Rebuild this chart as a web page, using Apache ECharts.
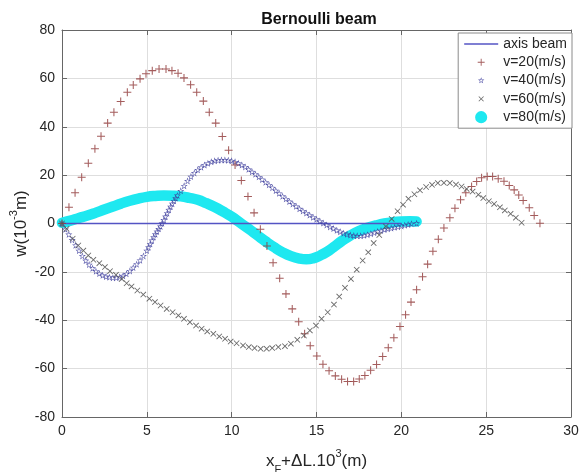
<!DOCTYPE html>
<html><head><meta charset="utf-8">
<script src="https://cdn.jsdelivr.net/npm/echarts@6/dist/echarts.min.js"></script>
<style>html,body{margin:0;padding:0;background:#fff}#c{width:584px;height:472px}</style>
</head><body><div id="c"></div>
<script>
// ---- data ----
const titleText = 'Bernoulli beam';
const seriesNames = ['axis beam', 'v=20(m/s)', 'v=40(m/s)', 'v=60(m/s)', 'v=80(m/s)'];
const xRange = [0, 30, 5];
const yRange = [-80, 80, 20];

const axisBeam = [[0, 0], [20, 0]];

const v20 = [[0,0],[0.41,6.7],[0.77,12.7],[1.16,19.1],[1.55,24.9],[1.94,30.9],[2.30,36.1],[2.69,41.5],[3.06,46],[3.46,50.4],[3.85,54.3],[4.2,57.3],[4.6,59.8],[4.95,61.9],[5.32,63.2],[5.72,63.9],[6.13,63.9],[6.48,63.2],[6.84,62.1],[7.19,60.2],[7.58,57.4],[7.94,54.3],[8.33,50.6],[8.68,46],[9.06,41.5],[9.45,36],[9.82,30.3],[10.2,24.2],[10.57,17.8],[10.96,11.2],[11.32,4.4],[11.69,-2.4],[12.08,-9.3],[12.44,-16.2],[12.83,-22.6],[13.2,-29.1],[13.57,-35.3],[13.95,-40.6],[14.3,-45.6],[14.63,-50.5],[15.02,-54.8],[15.38,-58.2],[15.74,-60.9],[16.11,-63],[16.48,-64.4],[16.83,-65.3],[17.19,-65.3],[17.52,-64.3],[17.85,-62.8],[18.19,-60.7],[18.54,-58.3],[18.9,-55],[19.23,-51.4],[19.56,-47.2],[19.92,-42.6],[20.25,-37.7],[20.57,-32.5],[20.9,-27.4],[21.25,-22],[21.55,-16.8],[21.86,-11.5],[22.18,-6.5],[22.51,-1.9],[22.86,2.4],[23.16,6.3],[23.49,9.8],[23.8,12.7],[24.14,15.3],[24.44,17.4],[24.73,18.9],[25.06,19.4],[25.38,19.4],[25.71,18.5],[26.05,17.5],[26.36,15.7],[26.65,13.9],[26.92,11.8],[27.18,9.5],[27.54,6.5],[27.83,3.3],[28.17,0.1]];

const v40 = [[0,0],[0.2,-2.4],[0.4,-4.5],[0.6,-6.8],[0.8,-9],[1.0,-11.2],[1.2,-13.4],[1.4,-15.3],[1.6,-17],[1.8,-18.5],[2.0,-19.7],[2.2,-20.7],[2.4,-21.4],[2.6,-21.9],[2.8,-22.2],[3.0,-22.4],[3.2,-22.4],[3.4,-22.1],[3.6,-21.6],[3.8,-20.8],[4.0,-19.6],[4.2,-18.2],[4.4,-16.8],[4.6,-15.2],[4.8,-13.4],[5.0,-11.2],[5.1,-9.8],[5.2,-8.4],[5.3,-7],[5.4,-5.6],[5.5,-4.4],[5.6,-3.3],[5.7,-2.2],[5.8,-1.2],[5.9,0.1],[6.0,1.5],[6.1,2.9],[6.2,4.3],[6.3,5.7],[6.4,7],[6.5,8.2],[6.6,9.4],[6.7,10.5],[6.8,11.6],[7.0,13.5],[7.2,15.6],[7.4,17.6],[7.6,19.4],[7.8,20.9],[8.0,22.2],[8.2,23.3],[8.4,24.2],[8.6,24.9],[8.8,25.5],[9.0,25.9],[9.2,26.2],[9.4,26.3],[9.6,26.3],[9.8,26.2],[10.0,25.9],[10.2,25.5],[10.4,24.9],[10.6,24.2],[10.8,23.4],[11.0,22.4],[11.2,21.4],[11.4,20.4],[11.6,19.3],[11.8,18.2],[12.0,17.1],[12.2,16.0],[12.4,14.8],[12.6,13.6],[12.8,12.5],[13.0,11.3],[13.2,10.2],[13.4,9.1],[13.6,8.1],[13.8,7.1],[14.0,6.1],[14.2,5.2],[14.4,4.3],[14.6,3.5],[14.8,2.6],[15.0,1.8],[15.2,1.0],[15.4,0.2],[15.6,-0.6],[15.8,-1.4],[16.0,-2.1],[16.2,-2.8],[16.4,-3.4],[16.6,-4.0],[16.8,-4.4],[17.0,-4.8],[17.2,-5.0],[17.4,-5.1],[17.6,-5.1],[17.8,-4.9],[18.0,-4.6],[18.2,-4.2],[18.4,-3.8],[18.6,-3.3],[18.8,-2.9],[19.0,-2.5],[19.2,-2.2],[19.4,-1.9],[19.6,-1.6],[19.8,-1.3],[20.0,-1.0],[20.2,-0.7],[20.4,-0.4],[20.6,-0.1],[20.9,0.1]];

const v60 = [[0,0],[0.27,-2.2],[0.63,-6.3],[0.96,-9.1],[1.26,-11.2],[1.55,-13.2],[1.85,-15],[2.2,-16.4],[2.53,-18],[2.83,-19.7],[3.18,-21.2],[3.52,-22.9],[3.81,-24.7],[4.1,-26],[4.44,-27.7],[4.79,-29.4],[5.15,-31.1],[5.48,-32.5],[5.81,-33.9],[6.17,-35.3],[6.52,-36.7],[6.86,-38],[7.19,-39.4],[7.54,-40.8],[7.9,-42.2],[8.23,-43.5],[8.56,-44.6],[8.92,-45.6],[9.27,-46.7],[9.61,-47.7],[9.94,-48.8],[10.29,-49.5],[10.67,-50.4],[11.01,-51.1],[11.35,-51.5],[11.71,-51.8],[12.06,-51.8],[12.39,-51.5],[12.75,-51.1],[13.14,-50.7],[13.49,-49.7],[13.87,-48.1],[14.26,-46.3],[14.61,-44.2],[14.97,-42.2],[15.3,-39.4],[15.66,-36.7],[16.03,-33.5],[16.34,-30.2],[16.68,-26.6],[17.03,-22.9],[17.37,-19.1],[17.72,-15.3],[18.05,-11.9],[18.37,-8.1],[18.7,-4.8],[19.09,-1.2],[19.43,1.9],[19.78,5.1],[20.1,7.8],[20.42,10.2],[20.77,12.1],[21.1,13.7],[21.46,15.1],[21.81,16],[22.15,16.7],[22.51,16.8],[22.86,16.7],[23.22,16.1],[23.55,15.3],[23.85,14.3],[24.2,13.2],[24.54,11.9],[24.83,10.5],[25.16,9.2],[25.47,8.1],[25.81,6.7],[26.1,5.4],[26.44,4],[26.75,2.4],[27.09,0.3]];

const v80 = [[0,0.3],[0.5,1.2],[1.0,2.3],[1.5,3.3],[2.0,4.5],[2.5,5.8],[3.0,7.0],[3.5,8.3],[4.0,9.4],[4.5,10.3],[5.0,11.0],[5.5,11.4],[6.0,11.6],[6.5,11.5],[7.0,11.2],[7.5,10.6],[8.0,9.8],[8.5,8.4],[9.0,6.8],[9.5,4.9],[10.0,2.8],[10.5,0.3],[11.0,-2.2],[11.5,-4.8],[12.0,-7.4],[12.5,-9.8],[13.0,-11.9],[13.5,-13.5],[14.0,-14.5],[14.4,-14.8],[14.8,-14.4],[15.2,-13.3],[15.6,-11.8],[16.0,-9.8],[16.5,-7.2],[17.0,-4.9],[17.5,-3.1],[18.0,-1.8],[18.5,-0.8],[19.0,0],[19.5,0.5],[20.0,0.8],[20.5,0.9],[20.9,0.8]];

// ---- symbols ----
const pad = (r) => ' M-' + r + ',-' + r + 'h0.01v0.01h-0.01Z M' + r + ',' + r + 'h0.01v0.01h-0.01Z';
const plusP = 'M-0.13,-1H0.13V1H-0.13Z M-1,-0.13H1V0.13H-1Z';
const crossP = 'M-1,-0.8L-0.8,-1L1,0.8L0.8,1Z M1,-0.8L-0.8,1L-1,0.8L0.8,-1Z';
const starP = 'M0,-1L0.235,-0.324L0.951,-0.309L0.38,0.124L0.588,0.809L0,0.4L-0.588,0.809L-0.38,0.124L-0.951,-0.309L-0.235,-0.324Z ' +
  'M0,-0.58L-0.136,-0.188L-0.552,-0.179L-0.22,0.072L-0.341,0.469L0,0.232L0.341,0.469L0.22,0.072L0.552,-0.179L0.136,-0.188Z';
const circP = 'M-1,0A1,1 0 1,0 1,0A1,1 0 1,0 -1,0Z';

const cBeam = '#5454c4', c20 = '#944040', c40 = '#3c3c9c', c60 = '#555555', c80 = '#1ee8f0';
const axisCol = '#666666', txtCol = '#262626', gridCol = '#dedede';

const chart = echarts.init(document.getElementById('c'), null, {renderer: 'canvas'});
const font = 'Liberation Sans, Arial, Helvetica, sans-serif';

const baseAxis = (extra) => Object.assign({
  type: 'value',
  axisLine: {show: true, onZero: false, lineStyle: {color: axisCol, width: 1}},
  axisTick: {show: true, inside: true, length: 5, lineStyle: {color: axisCol}},
  splitLine: {show: false},
}, extra);

chart.setOption({
  animation: false,
  backgroundColor: '#ffffff',
  textStyle: {fontFamily: font},
  title: {
    text: titleText, left: 314, top: 7, textAlign: 'center',
    textStyle: {fontSize: 16, fontWeight: 'bold', color: '#111', fontFamily: font}
  },
  grid: {left: 62, right: 13, top: 30, bottom: 55, containLabel: false, outerBoundsMode: 'none'},
  legend: {
    orient: 'vertical', right: 12, top: 33,
    backgroundColor: '#fff', borderColor: '#8a8a8a', borderWidth: 1, borderRadius: 0,
    padding: [4, 5, 4, 6], itemWidth: 34, itemHeight: 14, itemGap: 4.3,
    textStyle: {fontSize: 14, color: txtCol, fontFamily: font},
    data: [
      {name: seriesNames[0], icon: 'path://M0,0H34V1.3H0Z', itemStyle: {color: cBeam}},
      {name: seriesNames[1], icon: 'path://' + plusP + pad(2)},
      {name: seriesNames[2], icon: 'path://' + starP + pad(2.1)},
      {name: seriesNames[3], icon: 'path://' + crossP + pad(2.6)},
      {name: seriesNames[4], icon: 'path://' + circP + pad(1.15), itemStyle: {color: c80}}
    ]
  },
  xAxis: [
    baseAxis({
      min: xRange[0], max: xRange[1], interval: xRange[2], position: 'bottom',
      splitLine: {show: true, lineStyle: {color: gridCol, width: 1}},
      axisLabel: {fontSize: 14, color: txtCol, margin: 7, fontFamily: font},
      name: '{a|x}{sub|F}{a|+ΔL.10}{sup|3}{a|(m)}', nameLocation: 'middle', nameGap: 33,
      nameTextStyle: {
        color: txtCol, fontFamily: font,
        rich: {
          a: {fontSize: 17, color: txtCol, fontFamily: font, lineHeight: 22, verticalAlign: 'middle'},
          sub: {fontSize: 11, color: txtCol, fontFamily: font, lineHeight: 11, verticalAlign: 'bottom', padding: [0, 0, -3, 0]},
          sup: {fontSize: 11, color: txtCol, fontFamily: font, lineHeight: 11, verticalAlign: 'top', padding: [-2, 0, 0, 0]}
        }
      }
    }),
    baseAxis({min: xRange[0], max: xRange[1], interval: xRange[2], position: 'top', axisLabel: {show: false}})
  ],
  yAxis: [
    baseAxis({
      min: yRange[0], max: yRange[1], interval: yRange[2], position: 'left',
      splitLine: {show: true, lineStyle: {color: gridCol, width: 1}},
      axisLabel: {fontSize: 14, color: txtCol, margin: 7, fontFamily: font},
      name: '{a|w(10}{sup|-3}{a|m)}', nameLocation: 'middle', nameGap: 30, nameRotate: 90,
      nameMoveOverlap: false,
      nameTextStyle: {
        color: txtCol, fontFamily: font,
        rich: {
          a: {fontSize: 17, color: txtCol, fontFamily: font, lineHeight: 22, verticalAlign: 'middle'},
          sup: {fontSize: 11, color: txtCol, fontFamily: font, lineHeight: 11, verticalAlign: 'top', padding: [-2, 0, 0, 0]}
        }
      }
    }),
    baseAxis({min: yRange[0], max: yRange[1], interval: yRange[2], position: 'right', axisLabel: {show: false}})
  ],
  series: [
    {
      name: seriesNames[0], type: 'line', data: axisBeam, symbol: 'none', color: cBeam, z: 3,
      lineStyle: {color: cBeam, width: 1.3}, silent: true
    },
    {
      name: seriesNames[1], type: 'scatter', data: v20, symbol: 'path://' + plusP, symbolSize: 8, z: 5,
      itemStyle: {color: c20, opacity: 0.85}, silent: true
    },
    {
      name: seriesNames[2], type: 'scatter', data: v40, symbol: 'path://' + starP, symbolSize: 7, z: 4,
      itemStyle: {color: c40, opacity: 0.9}, silent: true
    },
    {
      name: seriesNames[3], type: 'scatter', data: v60, symbol: 'path://' + crossP, symbolSize: 6, z: 5,
      itemStyle: {color: c60, opacity: 0.9}, silent: true
    },
    {
      name: seriesNames[4], type: 'line', data: v80, smooth: true, symbol: 'none', color: c80, z: 2,
      lineStyle: {color: c80, width: 10.5, cap: 'round', join: 'round'}, silent: true
    }
  ]
});
</script>
</body></html>
